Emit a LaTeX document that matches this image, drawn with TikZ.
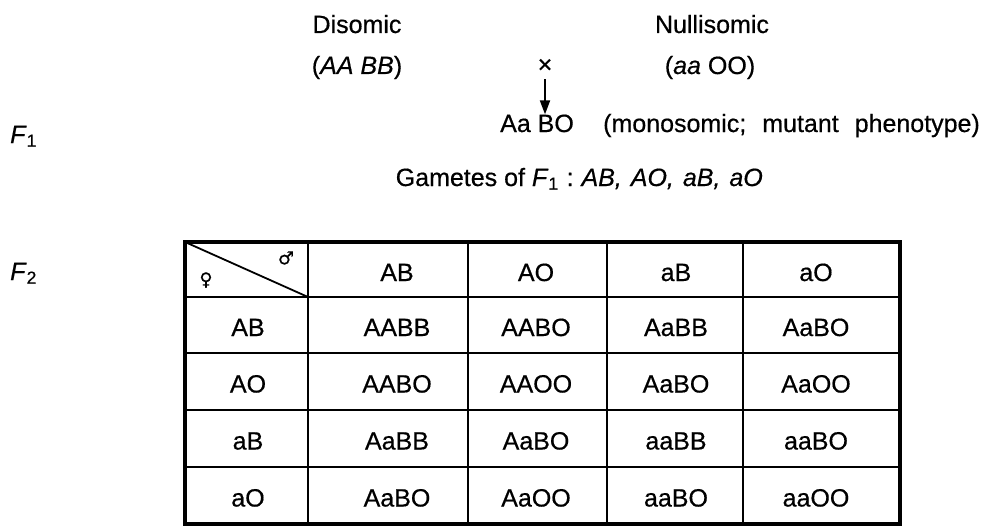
\documentclass[tikz,border=0pt]{standalone}
\usepackage{fontspec}
\setmainfont{Liberation Sans}[FakeBold=0.5]
\newfontfamily\symfont{DejaVu Sans}[FakeBold=0.5]
\usetikzlibrary{arrows.meta}
\begin{document}
\begin{tikzpicture}[x=1pt,y=-1pt,
  every node/.style={font=\fontsize{25}{30}\selectfont, inner sep=0pt},
  lbl/.style={anchor=base},
  cell/.style={anchor=base},
  outerline/.style={line width=3.2pt},
  innerline/.style={line width=2pt},
  arrowline/.style={line width=2pt, -{Triangle[length=14pt,width=10pt]}}]
\useasboundingbox (0,0) rectangle (995,527);
% parents
\node[lbl] (dis) at (357,33) {Disomic};
\node[lbl] (disg) at (357,74) {(\textit{AA BB})};
\node[lbl] (nul) at (712,33) {Nullisomic};
\node[lbl] (nulg) at (710,74) {(\textit{aa} OO)};
\node (cross) at (545,66) {×};
% F1
\node[lbl, anchor=base west] (f1) at (10,143) {\textit{F}\textsubscript{1}};
\node[anchor=base west] (f1g) at (500,132) {Aa BO};
\node[anchor=base west] (f1d) at (603,132) {(monosomic;\hspace{16pt}mutant\hspace{16pt}phenotype)};
\draw[arrowline] (cross.south) ++(0,6) -- (cross.south |- f1g.north);
\node[anchor=base east] (gam) at (763,186) {Gametes of \textit{F}\textsubscript{1}\hspace{8pt}:\hspace{8pt}\textit{AB,\hspace{9pt}AO,\hspace{9pt}aB,\hspace{9pt}aO}};
% F2
\node[anchor=base west] (f2) at (10,280) {\textit{F}\textsubscript{2}};
% table grid
\draw[outerline] (185,242) rectangle (900,524);
\foreach \x in {308,468,607,743} \draw[innerline] (\x,242) -- (\x,524);
\foreach \y in {297,353,410,467} \draw[innerline] (185,\y) -- (900,\y);
\draw[line width=1.8pt] (185,242) -- (308,297);
\node[font=\symfont\fontsize{18}{20}\selectfont] (fem) at (206,280) {♀};
\node[font=\symfont\fontsize{18}{20}\selectfont] (male) at (286,258) {♂};
% header
\foreach \t [count=\i] in {AB,AO,aB,aO} {
  \pgfmathsetmacro{\cx}{{397,536,676,816}[\i-1]}
  \node[cell] (h\i) at (\cx,281) {\t};
  \pgfmathsetmacro{\cy}{{336,392.5,449.5,506.5}[\i-1]}
  \node[cell] (r\i) at (248,\cy) {\t};
}
% body
\foreach \row [count=\j] in {{AABB,AABO,AaBB,AaBO},{AABO,AAOO,AaBO,AaOO},{AaBB,AaBO,aaBB,aaBO},{AaBO,AaOO,aaBO,aaOO}} {
  \pgfmathsetmacro{\cy}{{336,392.5,449.5,506.5}[\j-1]}
  \foreach \t [count=\i] in \row {
    \pgfmathsetmacro{\cx}{{397,536,676,816}[\i-1]}
    \node[cell] (c\j\i) at (\cx,\cy) {\t};
  }
}
\end{tikzpicture}
\end{document}
